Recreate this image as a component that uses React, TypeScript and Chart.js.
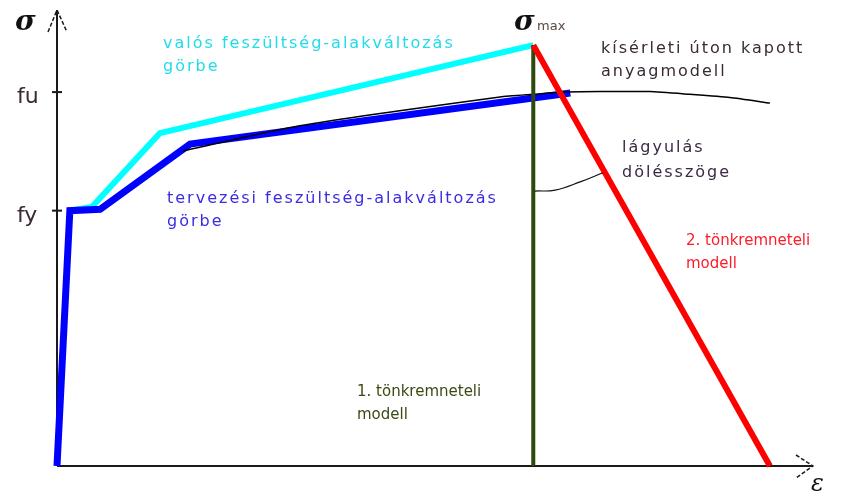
import React, { useEffect, useRef } from "react";
import { Chart, registerables } from "chart.js";

Chart.register(...registerables);

// ---- values (strain, stress in arbitrary units 0..100) ----
const fyValue = 56;
const fuValue = 82;
const sigmaMaxValue = 92.3;
const tickValues = [fuValue, fyValue];
const tickLabels = ["fu", "fy"];

const designStrain = [0, 1.7, 5.7, 17.6, 67.9];
const designStress = [0, 56, 56.3, 70.6, 81.8];

const realStrain = [1.7, 4.6, 13.6, 63];
const realStress = [56, 56.8, 73, sigmaMaxValue];

const testStrain = [16.7, 32.1, 58.6, 63, 67, 71.8, 78.4, 83.7, 89, 94.3];
const testStress = [69.1, 74.6, 80.9, 81.5, 82, 82.1, 82.1, 81.5, 80.8, 79.6];

const failure1Strain = [63, 63];
const failure1Stress = [0, sigmaMaxValue];

const failure2Strain = [63, 94.3];
const failure2Stress = [sigmaMaxValue, 0];

const arcStrain = [63.2, 65.9, 69.2, 72.2];
const arcStress = [60.3, 60.5, 62.3, 64.3];

const toPoints = (xs: number[], ys: number[]) => xs.map((x, i) => ({ x, y: ys[i] }));

const SANS = '"DejaVu Sans", Verdana, sans-serif';

const decorations = {
  id: "decorations",
  beforeDatasetsDraw(chart: any) {
    const { ctx, scales } = chart;
    const xs = scales.x;
    const ys = scales.y;
    const x0 = xs.getPixelForValue(0);
    const y0 = ys.getPixelForValue(0);
    const xEnd = xs.getPixelForValue(100);
    const yEnd = ys.getPixelForValue(100);
    ctx.save();
    ctx.strokeStyle = "#1a1a1a";
    ctx.lineWidth = 2;
    ctx.beginPath();
    ctx.moveTo(x0, y0);
    ctx.lineTo(x0, yEnd);
    ctx.moveTo(x0, y0);
    ctx.lineTo(xEnd, y0);
    ctx.stroke();
    tickValues.forEach((v) => {
      const py = ys.getPixelForValue(v);
      ctx.beginPath();
      ctx.moveTo(x0 - 5, py);
      ctx.lineTo(x0 + 5, py);
      ctx.stroke();
    });
    ctx.lineWidth = 1.5;
    ctx.setLineDash([4, 2]);
    ctx.beginPath();
    ctx.moveTo(x0 - 9, yEnd + 22);
    ctx.lineTo(x0, yEnd);
    ctx.lineTo(x0 + 10, yEnd + 22);
    ctx.moveTo(xEnd - 17, y0 - 11);
    ctx.lineTo(xEnd, y0);
    ctx.lineTo(xEnd - 17, y0 + 12);
    ctx.stroke();
    ctx.restore();
  },
  afterDatasetsDraw(chart: any) {
    const { ctx, scales } = chart;
    const ys = scales.y;
    ctx.save();
    ctx.textAlign = "left";
    ctx.textBaseline = "alphabetic";
    ctx.font = `22px ${SANS}`;
    ctx.fillStyle = "#3a2a35";
    tickLabels.forEach((t, i) => {
      const py = ys.getPixelForValue(tickValues[i]);
      ctx.fillText(t, 17, py + 11);
    });
    ctx.fillStyle = "#111";
    ctx.font = `italic bold 28px "DejaVu Serif", serif`;
    ctx.fillText("σ", 15, 30);
    ctx.fillText("σ", 514, 30);
    ctx.font = `13px ${SANS}`;
    ctx.fillStyle = "#5a4a40";
    ctx.fillText("max", 537, 30);
    ctx.fillStyle = "#111";
    ctx.font = `italic 24px "DejaVu Serif", serif`;
    ctx.fillText("ε", 811, 491);

    const text = (lines: string[], x: number, y: number, color: string, gap: number, size: number, spacing: number) => {
      ctx.fillStyle = color;
      ctx.font = `${size}px ${SANS}`;
      (ctx as any).letterSpacing = `${spacing}px`;
      lines.forEach((l, i) => ctx.fillText(l, x, y + i * gap));
      (ctx as any).letterSpacing = "0px";
    };
    text(["valós feszültség-alakváltozás", "görbe"], 163, 48, "#22dbe8", 23, 16, 2);
    text(["tervezési feszültség-alakváltozás", "görbe"], 167, 203, "#3a2ce0", 23, 16, 2);
    text(["kísérleti úton kapott", "anyagmodell"], 601, 53, "#3a2a35", 23, 16, 2);
    text(["lágyulás", "dölésszöge"], 622, 152, "#3a2a45", 25, 16, 2);
    text(["2. tönkremneteli", "modell"], 686, 245, "#ff1a2a", 23, 15, 0);
    text(["1. tönkremneteli", "modell"], 357, 396, "#3a4a15", 23, 15, 0);
    ctx.restore();
  },
};

export default function App() {
  const ref = useRef<HTMLCanvasElement | null>(null);
  useEffect(() => {
    if (!ref.current) return;
    const line = (data: any, color: string, width: number, order: number, tension = 0) => ({
      data,
      borderColor: color,
      backgroundColor: color,
      borderWidth: width,
      pointRadius: 0,
      showLine: true,
      tension,
      order,
      borderJoinStyle: "miter",
      borderCapStyle: "butt",
      clip: false,
    });
    const chart = new Chart(ref.current, {
      type: "scatter",
      data: {
        datasets: [
          line(toPoints(failure2Strain, failure2Stress), "#ff0000", 6, 1),
          line(toPoints(failure1Strain, failure1Stress), "#2b4a0c", 4, 2),
          line(toPoints(testStrain, testStress), "#000000", 1.5, 3, 0.2),
          line(toPoints(designStrain, designStress), "#0000ff", 7, 4),
          line(toPoints(realStrain, realStress), "#00ffff", 6, 5),
          line(toPoints(arcStrain, arcStress), "#111111", 1.2, 0, 0.4),
        ] as any,
      },
      options: {
        animation: false,
        responsive: false,
        maintainAspectRatio: false,
        layout: { padding: { left: 57, right: 41, top: 10, bottom: 27 } },
        plugins: { legend: { display: false }, tooltip: { enabled: false } },
        scales: {
          x: { type: "linear", min: 0, max: 100, display: false },
          y: { type: "linear", min: 0, max: 100, display: false },
        },
      },
      plugins: [decorations],
    });
    return () => chart.destroy();
  }, []);
  return (
    <div style={{ position: "fixed", left: 0, top: 0, width: 854, height: 493, background: "#fff" }}>
      <canvas ref={ref} width={854} height={493} />
    </div>
  );
}
